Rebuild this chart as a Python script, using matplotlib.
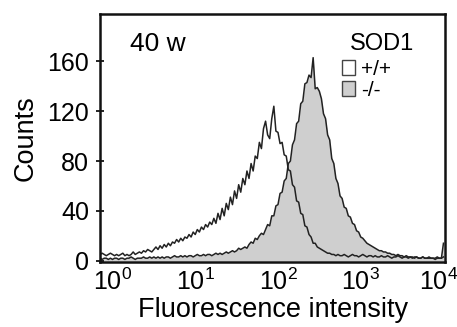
import numpy as np
import matplotlib
matplotlib.use("Agg")
import matplotlib.pyplot as plt
import matplotlib.transforms as mtransforms
from matplotlib.patches import Patch

plt.rcParams['font.family'] = ['Liberation Sans', 'DejaVu Sans']
plt.rcParams['mathtext.fontset'] = 'custom'
plt.rcParams['mathtext.rm'] = 'Liberation Sans'
plt.rcParams['mathtext.it'] = 'Liberation Sans:italic'
plt.rcParams['mathtext.bf'] = 'Liberation Sans:bold'

# log10 fluorescence channel grid (-0.15 .. 4.0, step 0.025)
log_start = -0.15
log_step = 0.025

wt_counts = [
    5, 6, 5, 4, 5, 6, 5, 4, 5, 4,
    5, 6, 4, 5, 4, 5, 7, 5, 6, 7,
    6, 8, 7, 9, 8, 7, 9, 11, 9, 12,
    10, 13, 11, 14, 12, 15, 14, 17, 15, 18,
    16, 19, 18, 21, 19, 23, 21, 25, 23, 27,
    25, 29, 27, 31, 29, 34, 30, 38, 33, 42,
    36, 46, 41, 51, 45, 56, 50, 61, 55, 66,
    61, 72, 66, 78, 72, 84, 82, 95, 90, 106,
    112, 101, 98, 114, 124, 104, 103, 94, 95, 85,
    84, 73, 72, 61, 59, 48, 47, 38, 37, 28,
    27, 21, 19, 14, 14, 11, 10, 9, 8, 7,
    6, 6, 5, 5, 4, 5, 4, 4, 5, 4,
    3, 4, 5, 4, 4, 3, 4, 5, 4, 3,
    4, 4, 3, 4, 3, 3, 4, 3, 3, 4,
    3, 2, 3, 3, 4, 3, 2, 3, 3, 2,
    3, 2, 3, 3, 2, 2, 3, 2, 2, 3,
    2, 2, 2, 3, 2, 2, 3,
]

ko_counts = [
    2, 1, 2, 2, 1, 2, 1, 2, 2, 1,
    2, 2, 1, 2, 2, 3, 2, 1, 2, 2,
    2, 3, 2, 2, 3, 2, 3, 2, 3, 2,
    3, 2, 3, 3, 2, 3, 4, 3, 3, 4,
    3, 4, 3, 4, 4, 3, 4, 5, 4, 4,
    5, 4, 5, 5, 4, 5, 6, 5, 6, 5,
    6, 7, 6, 7, 8, 7, 8, 10, 9, 10,
    11, 10, 13, 15, 14, 18, 17, 20, 22, 21,
    25, 29, 28, 36, 36, 44, 45, 54, 55, 64,
    66, 78, 80, 93, 97, 110, 112, 126, 128, 142,
    143, 149, 147, 163, 138, 139, 136, 130, 118, 114,
    101, 97, 82, 78, 66, 62, 52, 50, 43, 42,
    36, 35, 30, 29, 24, 23, 19, 18, 16, 14,
    13, 12, 11, 10, 9, 8, 8, 7, 7, 6,
    6, 5, 5, 4, 5, 4, 4, 3, 4, 3,
    3, 3, 2, 3, 2, 2, 3, 2, 2, 2,
    2, 2, 1, 2, 2, 2, 14,
]

x_ticks = [1, 10, 100, 1000, 10000]
x_tick_labels = [r'$\mathregular{10^{0}}$', r'$\mathregular{10^{1}}$',
                 r'$\mathregular{10^{2}}$', r'$\mathregular{10^{3}}$',
                 r'$\mathregular{10^{4}}$']
y_ticks = [0, 40, 80, 120, 160]
legend_labels = ['+/+', '-/-']

n = len(wt_counts)
logx = log_start + log_step * np.arange(n)
x = 10 ** logx

fig = plt.figure(figsize=(4.57, 3.27), dpi=100)
ax = fig.add_axes([0.219, 0.199, 0.755, 0.758])

line_col = '#222222'
fill_col = '#cfcfcf'

ax.fill_between(x, 0, ko_counts, color=fill_col, lw=0)
ax.plot(x, ko_counts, color=line_col, lw=1.1)
ax.plot(x, wt_counts, color=line_col, lw=1.1)

ax.set_xscale('log')
ax.set_xlim(10 ** -0.15, 10 ** 4.02)
ax.set_ylim(-1, 198)

ax.set_xticks(x_ticks)
ax.set_xticklabels(x_tick_labels)
ax.xaxis.set_minor_locator(matplotlib.ticker.NullLocator())
ax.tick_params(axis='x', length=0, pad=5, labelsize=18)
ax.set_yticks(y_ticks)
ax.tick_params(axis='y', direction='inout', length=6, width=1.2, pad=5, labelsize=18)

# nudge the last x tick label slightly left so it stays inside the figure
last = ax.get_xticklabels()[-1]
last.set_transform(last.get_transform() +
                   mtransforms.ScaledTranslation(-5 / 100, 0, fig.dpi_scale_trans))

for s in ax.spines.values():
    s.set_linewidth(1.8)
    s.set_color('#111111')

ax.set_xlabel('Fluorescence intensity', fontsize=19.5, labelpad=1)
ax.set_ylabel('Counts', fontsize=19.5, labelpad=6)

ax.text(0.087, 0.879, '40 w', transform=ax.transAxes, fontsize=19,
        ha='left', va='center')
ax.text(0.818, 0.878, 'SOD1', transform=ax.transAxes, fontsize=17,
        ha='center', va='center')

handles = [Patch(facecolor='white', edgecolor='#444444', lw=1.0),
           Patch(facecolor=fill_col, edgecolor='#444444', lw=1.0)]
ax.legend(handles, legend_labels, loc='upper left', bbox_to_anchor=(0.70, 0.815),
          frameon=False, fontsize=15, handlelength=0.65, handleheight=0.7,
          handletextpad=0.3, labelspacing=0.1, borderpad=0, borderaxespad=0)

fig.savefig('out.png', dpi=100)
